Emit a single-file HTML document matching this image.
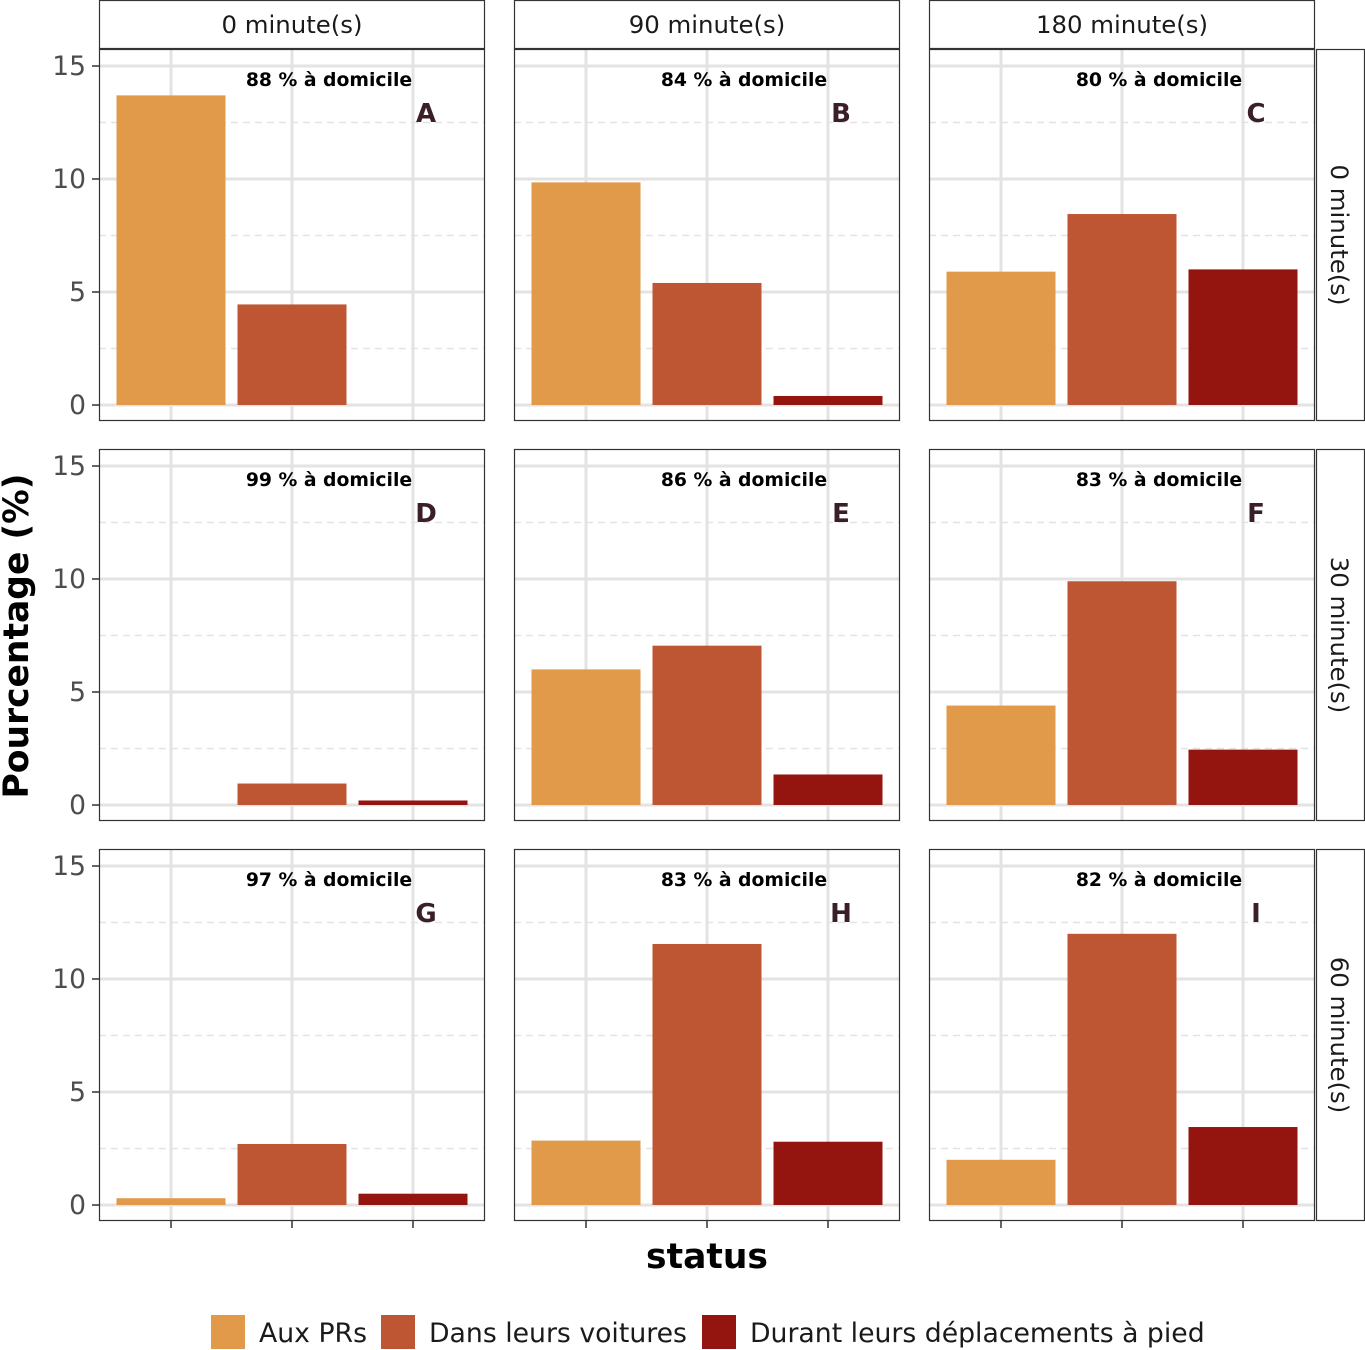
<!DOCTYPE html>
<html><head><meta charset="utf-8"><style>
html,body{margin:0;padding:0;background:#fff;}
svg{display:block;font-family:"DejaVu Sans","Liberation Sans",sans-serif;}
</style></head><body>
<svg id="chart" width="1365" height="1350" viewBox="0 0 1365 1350" xmlns="http://www.w3.org/2000/svg"></svg>
<script>
const colLabels = ["0 minute(s)", "90 minute(s)", "180 minute(s)"];
const rowLabels = ["0 minute(s)", "30 minute(s)", "60 minute(s)"];
const categories = ["Aux PRs", "Dans leurs voitures", "Durant leurs déplacements à pied"];
const panelLetters = ["A","B","C","D","E","F","G","H","I"];
const homePct = [88, 84, 80, 99, 86, 83, 97, 83, 82];
const valsPR = [13.7, 9.85, 5.9, 0, 6.0, 4.4, 0.3, 2.85, 2.0];
const valsCar = [4.45, 5.4, 8.45, 0.95, 7.05, 9.9, 2.7, 11.55, 12.0];
const valsWalk = [0, 0.4, 6.0, 0.2, 1.35, 2.45, 0.5, 2.8, 3.45];
const yTicks = [0, 5, 10, 15];
const yMinor = [2.5, 7.5, 12.5];
const colors = ["#E09A4A", "#BE5533", "#94150F"];

const svg = document.getElementById('chart');
const NS = "http://www.w3.org/2000/svg";
function mk(tag, attrs, parent){const e=document.createElementNS(NS,tag);for(const k in attrs)e.setAttribute(k,attrs[k]);(parent||svg).appendChild(e);return e;}
const colX = [99, 514, 929], PW = 386;
const rowY = [49, 449, 849], PH = 372;
const zeroOff = 356, unit = 22.6;
const barOff = [72, 193, 314], BW = 109;
function yScale(r, v){return rowY[r] + zeroOff - v*unit;}
function xScale(c, i){return colX[c] + barOff[i];}
const series = [valsPR, valsCar, valsWalk];

for(let r=0;r<3;r++){
  for(let c=0;c<3;c++){
    const idx=r*3+c;
    const g=mk('g',{});
    
    
    mk('rect',{x:colX[c],y:rowY[r],width:PW,height:PH,fill:'#fff'},g);
    yMinor.forEach(v=>{const l=mk('line',{x1:colX[c],x2:colX[c]+PW,y1:yScale(r,v),y2:yScale(r,v),stroke:'#e3e3e3','stroke-width':1.5,'stroke-dasharray':'7,5'},g);});
    yTicks.forEach(v=>{const l=mk('line',{x1:colX[c],x2:colX[c]+PW,y1:yScale(r,v),y2:yScale(r,v),stroke:'#e3e3e3','stroke-width':3},g);});
    for(let i=0;i<3;i++){const l=mk('line',{x1:xScale(c,i),x2:xScale(c,i),y1:rowY[r],y2:rowY[r]+PH,stroke:'#e3e3e3','stroke-width':3},g);}
    for(let i=0;i<3;i++){
      const v=series[i][idx];
      const y0=yScale(r,0), y1=yScale(r,v);
      const b=mk('rect',{x:xScale(c,i)-BW/2,y:Math.min(y0,y1),width:BW,height:Math.abs(y0-y1),fill:colors[i]},g);
      
      
    }
    mk('rect',{x:colX[c]+0.5,y:rowY[r]+0.5,width:PW-1,height:PH-1,fill:'none',stroke:'#333','stroke-width':1.2},g);
    const t=mk('text',{x:colX[c]+230,y:rowY[r]+37,'text-anchor':'middle','font-size':18.8,'font-weight':'bold',fill:'#000'},g);
    t.textContent=homePct[idx]+' % à domicile';
    
    const L=mk('text',{x:colX[c]+327,y:rowY[r]+73,'text-anchor':'middle','font-size':26,'font-weight':'bold',fill:'#3a1f2a'},g);
    L.textContent=panelLetters[idx];
    
  }
  yTicks.forEach(v=>{
    mk('line',{x1:92,x2:99,y1:yScale(r,v),y2:yScale(r,v),stroke:'#333','stroke-width':1.5});
    const t=mk('text',{x:86,y:yScale(r,v)+9,'text-anchor':'end','font-size':26.5,fill:'#4d4d4d'});
    t.textContent=v;
  });
  const sg=mk('g',{});
  mk('rect',{x:1316.5,y:rowY[r]+0.5,width:48,height:PH-1,fill:'#fff',stroke:'#333','stroke-width':1.2},sg);
  const st=mk('text',{x:1331,y:rowY[r]+PH/2,'text-anchor':'middle','font-size':24.4,fill:'#1a1a1a',transform:`rotate(90 1331 ${rowY[r]+PH/2})`},sg);
  st.textContent=rowLabels[r];
}
for(let c=0;c<3;c++){
  const sg=mk('g',{});
  mk('rect',{x:colX[c]+0.5,y:0.5,width:PW-1,height:48,fill:'#fff',stroke:'#333','stroke-width':1.2},sg);
  const st=mk('text',{x:colX[c]+PW/2,y:33,'text-anchor':'middle','font-size':24.4,fill:'#1a1a1a'},sg);
  st.textContent=colLabels[c];
  for(let i=0;i<3;i++) mk('line',{x1:xScale(c,i),x2:xScale(c,i),y1:1221,y2:1228,stroke:'#333','stroke-width':1.5});
}
let t=mk('text',{x:707,y:1268,'text-anchor':'middle','font-size':34.5,'font-weight':'bold',fill:'#000'});
t.textContent='status';
t=mk('text',{x:28,y:636,'text-anchor':'middle','font-size':34.5,'font-weight':'bold',fill:'#000',transform:'rotate(-90 28 636)'});
t.textContent='Pourcentage (%)';
const legX=[211,381,702];
for(let i=0;i<3;i++){
  const g=mk('g',{});
  mk('rect',{x:legX[i],y:1315,width:34,height:34,fill:colors[i]},g);
  const tt=mk('text',{x:legX[i]+48,y:1342,'font-size':26.7,fill:'#1a1a1a'},g);
  tt.textContent=categories[i];
}
</script>
</body></html>
